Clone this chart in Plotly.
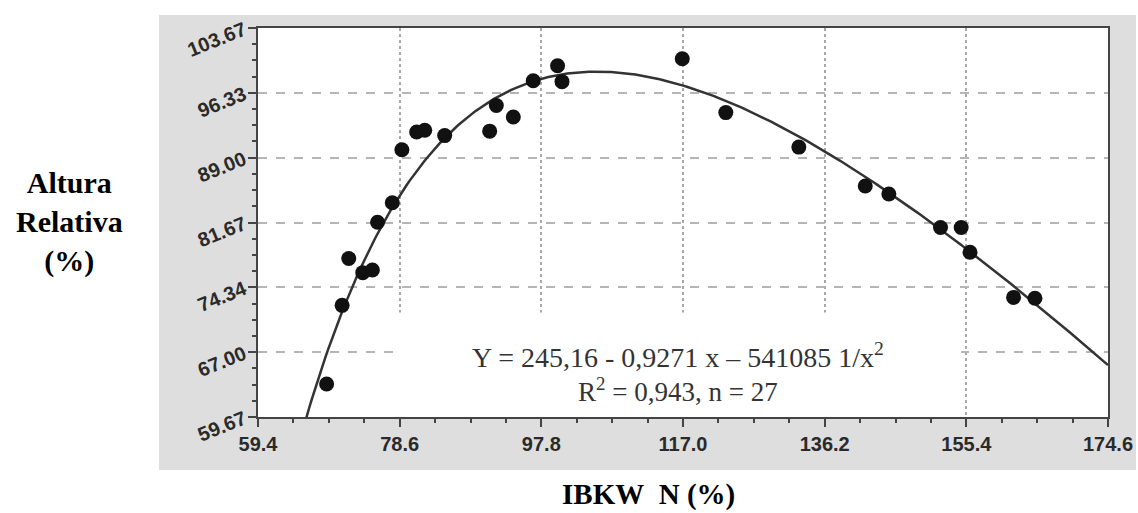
import numpy as np
import plotly.graph_objects as go

# Observed points (IBKW N %, Altura Relativa %)
ibkw_n = [68.7, 70.8, 71.7, 73.6, 74.9, 75.6, 77.6, 78.9, 80.9, 82.0, 84.7,
          90.8, 91.7, 94.0, 96.7, 100.0, 100.6, 116.9, 122.8, 132.7, 141.7,
          144.9, 151.9, 154.7, 155.9, 161.8, 164.7]
altura_rel = [63.4, 72.3, 77.6, 76.0, 76.3, 81.7, 83.9, 89.9, 91.9, 92.1, 91.5,
              92.0, 94.9, 93.6, 97.7, 99.4, 97.6, 100.2, 94.1, 90.2, 85.8,
              84.9, 81.1, 81.1, 78.3, 73.2, 73.1]

# Fitted model printed on the chart: Y = a - b x - c / x^2
fit_a, fit_b, fit_c = 245.16, 0.9271, 541085.0

x_ticks = [59.4, 78.6, 97.8, 117.0, 136.2, 155.4, 174.6]
x_ticktext = ["59.4", "78.6", "97.8", "117.0", "136.2", "155.4", "174.6"]
y_ticks = [59.67, 67.00, 74.34, 81.67, 89.00, 96.33, 103.67]
y_ticktext = ["59.67", "67.00", "74.34", "81.67", "89.00", "96.33", "103.67"]

curve_x = np.linspace(64.5, x_ticks[-1], 300)
curve_y = fit_a - fit_b * curve_x - fit_c / curve_x ** 2

fig = go.Figure()
fig.add_trace(go.Scatter(x=curve_x, y=curve_y, mode="lines",
                         line=dict(color="#333333", width=2.5),
                         hoverinfo="skip", showlegend=False))
fig.add_trace(go.Scatter(x=ibkw_n, y=altura_rel, mode="markers",
                         marker=dict(color="#111111", size=15, line=dict(width=0)),
                         showlegend=False, cliponaxis=False))

W, H = 1138, 513
L, R, T, B = 258, 1108, 28, 417
pw, ph = R - L, B - T

def px_x(p):
    return (p - L) / pw

def px_y(p):
    return (B - p) / ph

# gray panel behind the chart
fig.add_shape(type="rect", xref="paper", yref="paper", layer="below",
              x0=px_x(159), x1=px_x(1136), y0=px_y(470), y1=px_y(15),
              fillcolor="#dedede", line=dict(width=0))
# white plotting area
fig.add_shape(type="rect", xref="paper", yref="paper", layer="below",
              x0=0, x1=1, y0=0, y1=1, fillcolor="white", line=dict(width=0))
# white box behind the equation (hides grid)
fig.add_shape(type="rect", xref="x", yref="y", layer="between",
              x0=77.9, x1=154.7, y0=59.67, y1=71.5,
              fillcolor="white", line=dict(width=0))

tick_font = dict(family="Liberation Sans, Arial", size=20, color="#2a2a2a", weight="bold")

fig.update_xaxes(range=[x_ticks[0], x_ticks[-1]], tickmode="array",
                 tickvals=x_ticks, ticktext=x_ticktext, automargin=False,
                 showline=True, mirror=True, linecolor="#444444", linewidth=2,
                 ticks="outside", ticklen=8, tickwidth=2, tickcolor="#444444",
                 minor=dict(tick0=x_ticks[0], dtick=4.8, ticks="outside",
                            ticklen=4, tickwidth=2, tickcolor="#444444", showgrid=False),
                 showgrid=True, gridcolor="#a8a8a8", gridwidth=1.5, griddash="dot",
                 zeroline=False, tickfont=tick_font)
fig.update_yaxes(range=[y_ticks[0], y_ticks[-1]], tickmode="array",
                 tickvals=y_ticks, ticktext=y_ticktext, tickangle=-22, automargin=False,
                 showline=True, mirror=True, linecolor="#444444", linewidth=2,
                 ticks="outside", ticklen=8, tickwidth=2, tickcolor="#444444",
                 minor=dict(tick0=y_ticks[0], dtick=(y_ticks[-1] - y_ticks[0]) / 24,
                            ticks="outside", ticklen=4, tickwidth=2,
                            tickcolor="#444444", showgrid=False),
                 showgrid=True, gridcolor="#b5b5b5", gridwidth=2, griddash="dash",
                 zeroline=False, tickfont=tick_font)

eq_font = dict(family="Liberation Serif, Times New Roman", size=28, color="#333333")
fig.add_annotation(xref="paper", yref="paper", x=px_x(678), y=px_y(355),
                   text="Y = 245,16 - 0,9271 x \u2013 541085 1/x<sup>2</sup>",
                   showarrow=False, font=eq_font, xanchor="center", yanchor="middle")
fig.add_annotation(xref="paper", yref="paper", x=px_x(678), y=px_y(390),
                   text="R<sup>2</sup> = 0,943, n = 27",
                   showarrow=False, font=dict(eq_font, size=27),
                   xanchor="center", yanchor="middle")

title_font = dict(family="Liberation Serif, Times New Roman", size=30, color="black")
fig.add_annotation(xref="paper", yref="paper", x=px_x(69), y=px_y(222),
                   text="<b>Altura<br>Relativa<br>(%)</b>", align="center",
                   showarrow=False, font=title_font, xanchor="center", yanchor="middle")
fig.add_annotation(xref="paper", yref="paper", x=px_x(648), y=px_y(494),
                   text="<b>IBKW\u00a0\u00a0N (%)</b>",
                   showarrow=False, font=dict(title_font, size=29),
                   xanchor="center", yanchor="middle")

fig.update_layout(width=W, height=H,
                  margin=dict(l=L, r=W - R, t=T, b=H - B),
                  paper_bgcolor="white", plot_bgcolor="white",
                  showlegend=False)

fig.write_html("out.html")
